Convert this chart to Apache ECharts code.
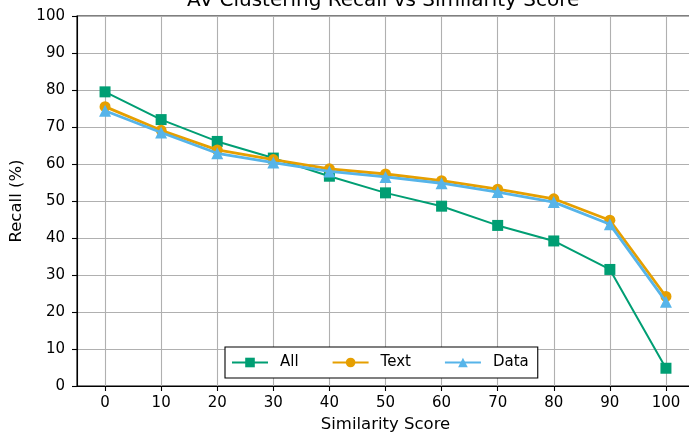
<!DOCTYPE html>
<html>
<head>
<meta charset="utf-8">
<script src="https://cdn.jsdelivr.net/npm/echarts@6/dist/echarts.min.js"></script>
<style>
html,body{margin:0;padding:0;background:#fff;}
#chart{width:689px;height:438px;}
</style>
</head>
<body>
<div id="chart"></div>
<script>
const similarity = [0, 10, 20, 30, 40, 50, 60, 70, 80, 90, 100];
const recallAll  = [79.5, 72.0, 66.1, 61.6, 56.7, 52.2, 48.6, 43.4, 39.2, 31.5, 4.8];
const recallText = [75.5, 69.1, 63.8, 61.2, 58.7, 57.3, 55.5, 53.2, 50.6, 44.8, 24.2];
const recallData = [74.4, 68.5, 62.9, 60.4, 58.0, 56.5, 54.8, 52.4, 49.7, 43.7, 22.8];
const xTicks = [0, 10, 20, 30, 40, 50, 60, 70, 80, 90, 100];

const FONT = 'DejaVu Sans';
const pairs = arr => similarity.map((x, i) => [x, arr[i]]);

const chart = echarts.init(document.getElementById('chart'), null, {renderer: 'canvas'});
chart.setOption({
  animation: false,
  backgroundColor: '#fff',
  title: {
    text: 'AV Clustering Recall vs Similarity Score',
    left: 187,
    top: -9,
    padding: 0,
    textStyle: {fontFamily: FONT, fontSize: 20, fontWeight: 'normal', color: '#000'}
  },
  grid: {
    left: 77, top: 16, width: 617, height: 370,
    outerBoundsMode: 'none',
    show: true, borderColor: '#000', borderWidth: 1.1, backgroundColor: 'transparent',
    containLabel: false
  },
  legend: {
    left: 225, top: 347,
    orient: 'horizontal',
    padding: [8, 9, 8, 6],
    borderColor: '#000', borderWidth: 1.1, borderRadius: 0,
    backgroundColor: '#fff',
    itemWidth: 36, itemHeight: 12, itemGap: 33,
    textStyle: {fontFamily: FONT, fontSize: 15, color: '#000', padding: [0, 0, 0, 7]},
    data: ['All', 'Text', 'Data']
  },
  xAxis: {
    type: 'value',
    min: -5, max: 105,
    name: 'Similarity Score',
    nameLocation: 'middle',
    nameGap: 30,
    nameTextStyle: {fontFamily: FONT, fontSize: 16.5, color: '#000'},
    axisLine: {show: true, onZero: false, lineStyle: {color: '#000', width: 1.1}},
    axisTick: {show: true, length: 5, lineStyle: {color: '#000', width: 1.1}, customValues: xTicks},
    axisLabel: {fontFamily: FONT, fontSize: 15, color: '#000', margin: 10, customValues: xTicks},
    splitLine: {show: true, lineStyle: {color: '#b0b0b0', width: 1.1}}
  },
  yAxis: {
    type: 'value',
    min: 0, max: 100, interval: 10,
    name: 'Recall (%)',
    nameLocation: 'middle',
    nameGap: 48,
    nameRotate: 90,
    nameTextStyle: {fontFamily: FONT, fontSize: 16.5, color: '#000'},
    axisLine: {show: true, onZero: false, lineStyle: {color: '#000', width: 1.1}},
    axisTick: {show: true, length: 5, lineStyle: {color: '#000', width: 1.1}},
    axisLabel: {fontFamily: FONT, fontSize: 15, color: '#000', margin: 12},
    splitLine: {show: true, lineStyle: {color: '#b0b0b0', width: 1.1}}
  },
  series: [
    {
      name: 'All', type: 'line', data: pairs(recallAll),
      symbol: 'rect', symbolSize: 11,
      lineStyle: {color: '#009E73', width: 2},
      itemStyle: {color: '#009E73', borderWidth: 0},
      z: 2
    },
    {
      name: 'Text', type: 'line', data: pairs(recallText),
      symbol: 'circle', symbolSize: 11,
      lineStyle: {color: '#E69F00', width: 2.8},
      itemStyle: {color: '#E69F00', borderWidth: 0},
      z: 3
    },
    {
      name: 'Data', type: 'line', data: pairs(recallData),
      symbol: 'triangle', symbolSize: 12,
      lineStyle: {color: '#56B4E9', width: 2.8},
      itemStyle: {color: '#56B4E9', borderWidth: 0},
      z: 4
    }
  ]
});
</script>
</body>
</html>
